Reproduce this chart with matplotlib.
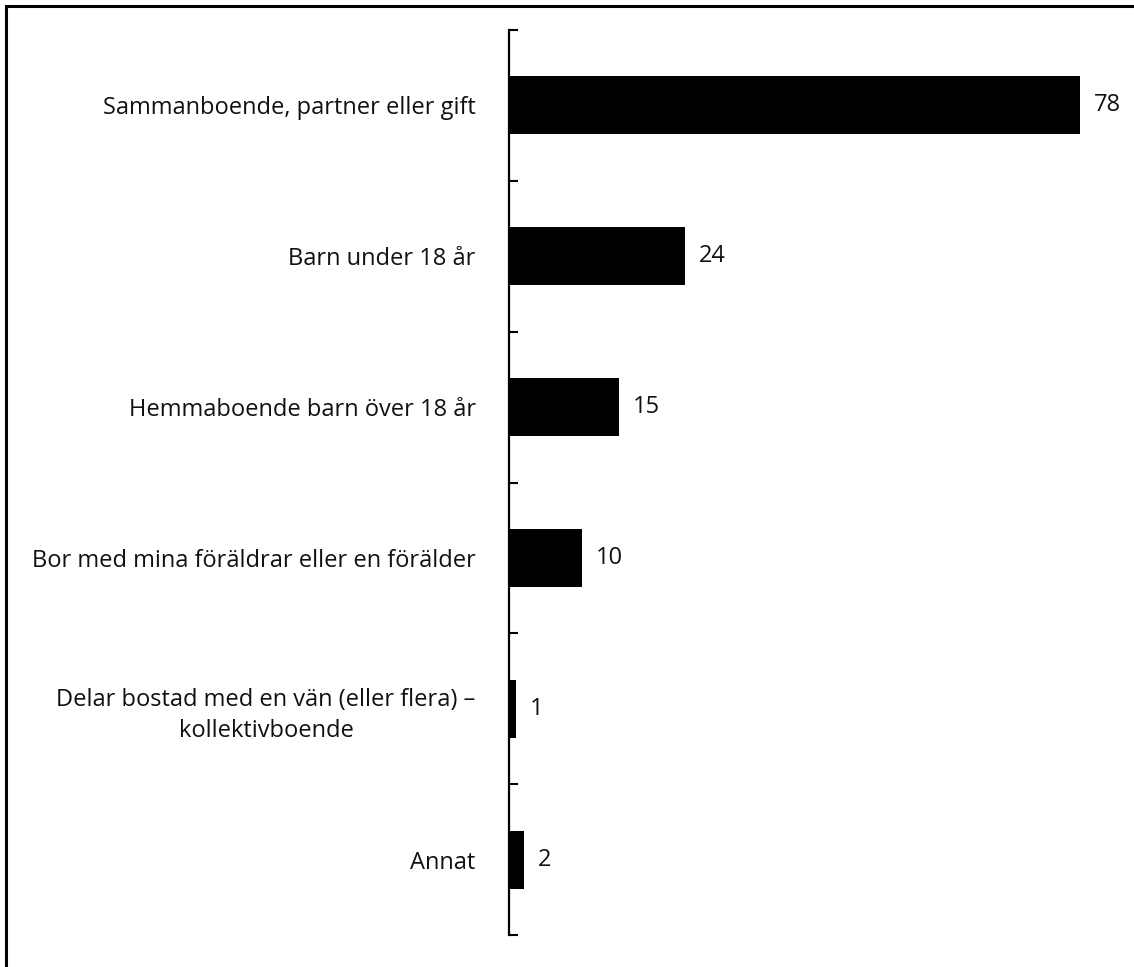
import matplotlib
matplotlib.use("Agg")
from matplotlib import pyplot as plt
from matplotlib.patches import Rectangle
import numpy as np

categories = [
    "Sammanboende, partner eller gift",
    "Barn under 18 år",
    "Hemmaboende barn över 18 år",
    "Bor med mina föräldrar eller en förälder",
    "Delar bostad med en vän (eller flera) –\nkollektivboende",
    "Annat",
]
values = [78, 24, 15, 10, 1, 2]

plt.rcParams['font.family'] = ['Open Sans', 'DejaVu Sans']

fig = plt.figure(figsize=(11.34, 9.67), dpi=100)
ax = fig.add_axes([509 / 1134, 32 / 967, 600 / 1134, 905 / 967])

y = np.arange(len(categories))
ax.barh(y, values, height=0.385, color="black")

for yi, v in zip(y, values):
    ax.annotate(str(v), (v, yi), xytext=(10, 0), textcoords="offset points",
                ha="left", va="center", fontsize=17, color="#111111")

ax.set_xlim(0, 82)
ax.set_ylim(len(categories) - 0.5, -0.5)

ax.set_yticks(y)
ax.set_yticklabels(categories, fontsize=17, multialignment="center",
                   linespacing=1.4, color="#111111")
ax.set_yticks(np.arange(-0.5, len(categories), 1), minor=True)
ax.tick_params(axis="y", which="major", length=0, pad=24)
ax.tick_params(axis="y", which="minor", direction="in", length=6.5, width=1.5)
ax.set_xticks([])

for side in ["top", "right", "bottom"]:
    ax.spines[side].set_visible(False)
ax.spines["left"].set_linewidth(1.6)

# frame of the cropped picture (only top and left edges visible)
fig.patches.append(Rectangle((6 / 1134, -0.1), 1.2, 1.1 - 6 / 967,
                             transform=fig.transFigure, fill=False,
                             edgecolor="black", linewidth=2.2))

fig.savefig("out.png", dpi=100)
